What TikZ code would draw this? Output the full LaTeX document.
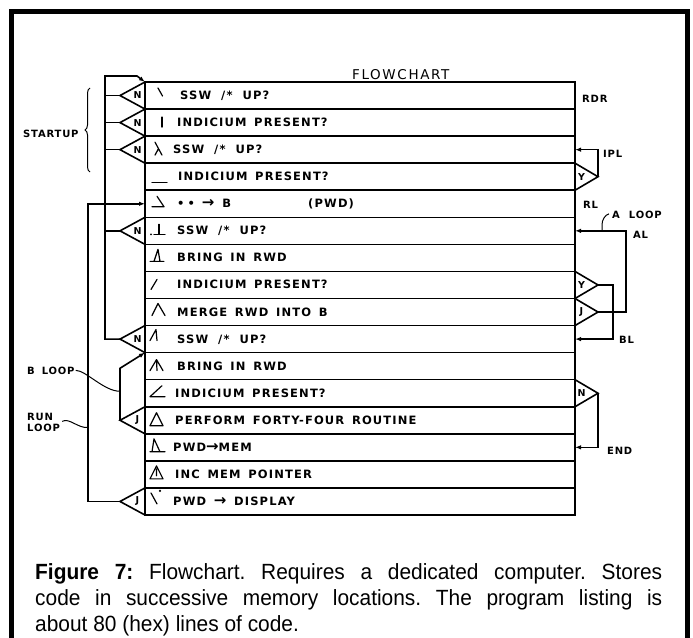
\documentclass[tikz,border=0pt]{standalone}
\usepackage{fontspec}
\setmainfont{Liberation Sans}
\newfontfamily\chartfont[LetterSpace=10,WordSpace=1.5]{DejaVu Sans}
\newfontfamily\tagfont[LetterSpace=8]{DejaVu Sans}
\newfontfamily\titlefont[LetterSpace=12]{DejaVu Sans}
\newfontfamily\captionfont[FakeStretch=0.95]{Liberation Sans}
\usetikzlibrary{arrows.meta,decorations.pathreplacing,calc}

\tikzset{
  ink/.style={line width=1.6pt},
  rowbox/.style={draw, line width=1.6pt, minimum width=430pt, minimum height=27.0625pt, inner sep=0pt, outer sep=0pt},
  rowtext/.style={anchor=base west, inner sep=0pt, font=\chartfont\bfseries\fontsize{11.5}{13}\selectfont},
  tag/.style={anchor=base west, inner sep=0pt, font=\tagfont\bfseries\fontsize{10}{12}\selectfont},
  flag/.style={inner sep=0pt, font=\tagfont\bfseries\fontsize{9.5}{11}\selectfont},
  glyph/.style={line width=1.2pt, line cap=round, line join=round},
  flow/.style={ink, -{Latex[length=6pt,width=4.5pt]}},
  leader/.style={line width=1pt},
  frame/.style={line width=4.5pt},
}

% a larger arrow sign inside the step texts
\newcommand\bigarrow{{\fontsize{15}{13}\selectfont →}}

% decision triangle on the left or right side of a row, with its answer letter
\newcommand\decleft[2]{%
  \draw[ink] (r#1.north west) -- ($(r#1.west)+(-25,0)$) coordinate (ap#1) -- (r#1.south west);
  \node[flag] (fl#1) at ($(r#1.west)+(-7.5,0)$) {#2};}
\newcommand\decright[2]{%
  \draw[ink] (r#1.north east) -- ($(r#1.east)+(23,0)$) coordinate (bp#1) -- (r#1.south east);
  \node[flag] (fr#1) at ($(r#1.east)+(6.5,0)$) {#2};}

\begin{document}
\begin{tikzpicture}[x=1pt,y=-1pt]
\useasboundingbox (0,0) rectangle (693,637);
\fill[white] (0,0) rectangle (693,637);

% outer frame, open at the bottom
\draw[frame] (11.5,640) -- (11.5,11.5) -- (687.5,11.5) -- (687.5,640);

% title
\node[anchor=base west, inner sep=0pt, font=\titlefont\fontsize{13.5}{15}\selectfont] (title) at (352,79) {FLOWCHART};

% the sixteen program steps
\foreach \k in {1,...,16}
  \node[rowbox] (r\k) at (360,{82+(\k-0.5)*27.0625}) {};

\node[rowtext] (t1)  at ($(r1.west)+(35,4)$)  {SSW\hspace{10pt}/*\hspace{10pt}UP?};
\node[rowtext] (t2)  at ($(r2.west)+(32,4)$)  {INDICIUM PRESENT?};
\node[rowtext] (t3)  at ($(r3.west)+(28,4)$)  {SSW\hspace{10pt}/*\hspace{10pt}UP?};
\node[rowtext] (t4)  at ($(r4.west)+(33,4)$)  {INDICIUM PRESENT?};
\node[rowtext] (t5)  at ($(r5.west)+(32,4)$)  {•\hspace{3pt}•\hspace{7pt}\bigarrow\hspace{8pt}B};
\node[rowtext] (t5b) at ($(r5.west)+(163,4)$) {(PWD)};
\node[rowtext] (t6)  at ($(r6.west)+(32,4)$)  {SSW\hspace{10pt}/*\hspace{10pt}UP?};
\node[rowtext] (t7)  at ($(r7.west)+(32,4)$)  {BRING IN RWD};
\node[rowtext] (t8)  at ($(r8.west)+(32,4)$)  {INDICIUM PRESENT?};
\node[rowtext] (t9)  at ($(r9.west)+(32,4)$)  {MERGE RWD INTO B};
\node[rowtext] (t10) at ($(r10.west)+(32,4)$) {SSW\hspace{10pt}/*\hspace{10pt}UP?};
\node[rowtext] (t11) at ($(r11.west)+(32,4)$) {BRING IN RWD};
\node[rowtext] (t12) at ($(r12.west)+(30,4)$) {INDICIUM PRESENT?};
\node[rowtext] (t13) at ($(r13.west)+(30,4)$) {PERFORM FORTY-FOUR ROUTINE};
\node[rowtext] (t14) at ($(r14.west)+(28,4)$) {PWD\bigarrow MEM};
\node[rowtext] (t15) at ($(r15.west)+(30,4)$) {INC MEM POINTER};
\node[rowtext] (t16) at ($(r16.west)+(28,4)$) {PWD \bigarrow\ DISPLAY};

% step key glyphs
\begin{scope}[shift={(r1.north west)}]\draw[glyph] (13,6) -- (17.5,14);\end{scope}
\begin{scope}[shift={(r2.north west)}]\draw[glyph] (17,8) -- (17,18);\end{scope}
\begin{scope}[shift={(r3.north west)}]\draw[glyph] (10,6) -- (17,19) (13.5,12.5) -- (10,19);\end{scope}
\begin{scope}[shift={(r4.north west)}]\draw[glyph] (7,19) -- (22,19);\end{scope}
\begin{scope}[shift={(r5.north west)}]\draw[glyph] (12,6) -- (19,16.5) -- (7,16.5);\end{scope}
\begin{scope}[shift={(r6.north west)}]\draw[glyph] (14,7) -- (14,17) (9,17) -- (20,17);\fill (6,17) circle (1pt);\end{scope}
\begin{scope}[shift={(r7.north west)}]\draw[glyph] (5,17) -- (19,17) (9,17) -- (13,5) -- (15,17);\end{scope}
\begin{scope}[shift={(r8.north west)}]\draw[glyph] (6,18) -- (12,8);\end{scope}
\begin{scope}[shift={(r9.north west)}]\draw[glyph] (7,17) -- (13,5) -- (20,17);\end{scope}
\begin{scope}[shift={(r10.north west)}]\draw[glyph] (5,15) -- (11,4) -- (12,15);\end{scope}
\begin{scope}[shift={(r11.north west)}]\draw[glyph] (5,18) -- (11.5,7) -- (18,18) (11.5,7) -- (12,18);\end{scope}
\begin{scope}[shift={(r12.north west)}]\draw[glyph] (17,6) -- (5,17) -- (20,17);\end{scope}
\begin{scope}[shift={(r13.north west)}]\draw[glyph] (5,19) -- (11.5,6) -- (18,19) -- cycle;\end{scope}
\begin{scope}[shift={(r14.north west)}]\draw[glyph] (7,18) -- (9,5) -- (15,18) (5,18) -- (20,18);\end{scope}
\begin{scope}[shift={(r15.north west)}]\draw[glyph] (5,18) -- (11.5,5) -- (18,18) -- cycle (11.5,8) -- (11.5,15);\end{scope}
\begin{scope}[shift={(r16.north west)}]\draw[glyph] (6,5) -- (12,16);\fill (15,3) circle (1.2pt);\end{scope}

% decisions
\decleft{1}{N}
\decleft{2}{N}
\decleft{3}{N}
\decleft{6}{N}
\decleft{10}{N}
\decleft{13}{J}
\decleft{16}{J}
\decright{4}{Y}
\decright{8}{Y}
\decright{9}{J}
\decright{12}{N}

% left-hand return paths
\coordinate (trunk) at (105,76);
\coordinate (entry) at (137,76);
\draw[flow] (ap10) -- (ap10 -| trunk) -- (trunk) -- (entry) -- (r1.north west);
\foreach \k in {1,2,3,6}
  \draw[ink] (ap\k) -- (ap\k -| trunk);

\coordinate (runx) at (88,0);
\draw[flow] (ap16) -- (ap16 -| runx) -- (r5.west -| runx) -- (r5.west);

\coordinate (bturn) at ($(ap13)+(0,-52)$);
\draw[flow] (ap13) -- (bturn) -- (r11.north west);

% right-hand return paths
\draw[flow] (bp4) -- (bp4 |- r3.east) -- (r3.east);
\coordinate (alx) at (626,0);
\draw[flow] (bp9) -- (bp9 -| alx) -- (r6.east -| alx) -- (r6.east);
\coordinate (blx) at (613,0);
\draw[flow] (bp8) -- (bp8 -| blx) -- (r10.east -| blx) -- (r10.east);
\draw[flow] (bp12) -- (bp12 |- r14.east) -- (r14.east);

% labels
\node[tag] (rdr)  at (582,102) {RDR};
\node[tag] (ipl)  at (603,157) {IPL};
\node[tag] (rl)   at (583,208) {RL};
\node[tag] (aloop) at (612,218.5) {A\hspace{9pt}LOOP};
\node[tag] (al)   at (633,238) {AL};
\node[tag] (bl)   at (619,343) {BL};
\node[tag] (endl) at (607,454) {END};
\node[tag] (startup) at (23,137) {STARTUP};
\node[tag] (bloop) at (27,374) {B\hspace{7pt}LOOP};
\node[tag] (run)  at (27,420) {RUN};
\node[tag] (loop) at (27,431) {LOOP};

% leaders and brace
\coordinate (aat) at ($(r6.east)+(27,0)$);
\draw[leader] (aat) -- ++(0,-6) .. controls +(0,-5) and +(-4,1) .. ($(aloop.west)+(-3,-1)$);
\coordinate (bat) at ($(ap13)+(0,-29)$);
\draw[leader] ($(bloop.east)+(1,0)$) .. controls +(10,0) and +(-16,0) .. (bat);
\coordinate (rat) at ($(ap16 -| runx)+(0,-74)$);
\draw[leader] ($(loop.north east)+(2,-2)$) .. controls +(7,-4) and +(-10,1) .. (rat);
\draw[leader, decorate, decoration={brace, amplitude=5pt}] (90,172) -- (90,88);

% caption
\node[anchor=north west, inner sep=0pt, text width=627pt, align=justify,
      font=\captionfont\fontsize{22}{26}\selectfont\frenchspacing] (caption) at (35,563)
  {\textbf{Figure 7:} Flowchart. Requires a dedicated computer. Stores\linebreak
   code in successive memory locations. The program listing is\linebreak
   about 80 (hex) lines of code.};
\end{tikzpicture}
\end{document}
